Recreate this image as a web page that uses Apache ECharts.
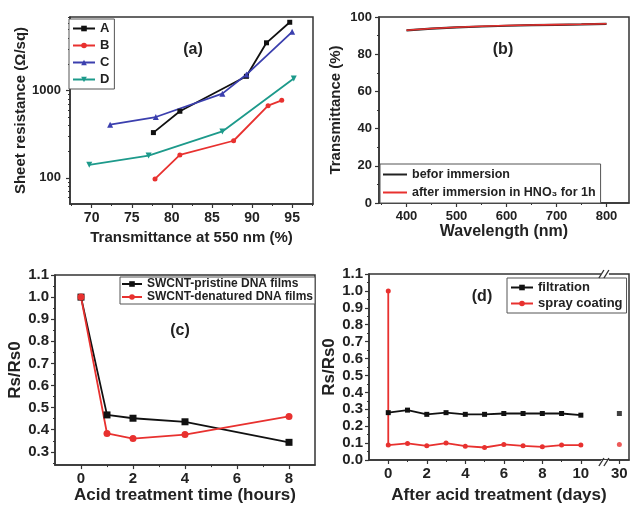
<!DOCTYPE html>
<html>
<head>
<meta charset="utf-8">
<script src="https://cdn.jsdelivr.net/npm/echarts@6/dist/echarts.min.js"></script>
<style>
html,body{margin:0;padding:0;background:#fff;}
#c{width:632px;height:505px;}
</style>
</head>
<body>
<div id="c"></div>
<script>
// ---------- DATA ----------
// (a) sheet resistance vs transmittance
const aNames = ['A', 'B', 'C', 'D'];
const aX_A = [77.7, 81.0, 89.3, 91.8, 94.7];
const aY_A = [330, 580, 1460, 3540, 6090];
const aX_B = [77.9, 81.0, 87.7, 92.0, 93.7];
const aY_B = [97, 183, 266, 672, 774];
const aX_C = [72.3, 78.0, 86.3, 89.3, 95.0];
const aY_C = [407, 498, 924, 1530, 4730];
const aX_D = [69.7, 77.1, 86.3, 95.2];
const aY_D = [141, 180, 340, 1375];
const aXTicks = [70, 75, 80, 85, 90, 95];
const aXMinor = [67.5, 72.5, 77.5, 82.5, 87.5, 92.5, 97.5];
const aYTicks = [100, 1000];
const aYMinor = [60, 70, 80, 90, 200, 300, 400, 500, 600, 700, 800, 900, 2000, 3000, 4000, 5000, 6000, 7000];

// (b) transmittance spectra
const bNames = ['befor immersion', 'after immersion in HNO₃ for 1h'];
const bWave = [400, 450, 500, 550, 600, 650, 700, 750, 800];
const bBefore = [92.8, 93.7, 94.4, 94.9, 95.3, 95.6, 95.8, 96.0, 96.3];
const bAfter = [92.9, 93.8, 94.5, 95.0, 95.4, 95.7, 95.9, 96.1, 96.4];
const bXTicks = [400, 500, 600, 700, 800];
const bXMinor = [350, 450, 550, 650, 750];
const bYMinor = [10, 30, 50, 70, 90];

// (c) Rs/Rs0 vs acid treatment time
const cNames = ['SWCNT-pristine DNA films', 'SWCNT-denatured DNA films'];
const cHours = [0, 1, 2, 4, 8];
const cPristine = [1.0, 0.467, 0.452, 0.436, 0.343];
const cDenatured = [1.0, 0.383, 0.360, 0.378, 0.460];
const cXTicks = [0, 2, 4, 6, 8];
const cXMinor = [1, 3, 5, 7];
const cYTicks = [0.3, 0.4, 0.5, 0.6, 0.7, 0.8, 0.9, 1.0, 1.1];
const cYMinor = [0.25, 0.35, 0.45, 0.55, 0.65, 0.75, 0.85, 0.95, 1.05];

// (d) stability after acid treatment
const dNames = ['filtration', 'spray coating'];
const dDays = [0, 1, 2, 3, 4, 5, 6, 7, 8, 9, 10];
const dFiltration = [0.28, 0.295, 0.27, 0.28, 0.27, 0.27, 0.275, 0.275, 0.275, 0.275, 0.265];
const dSprayDays = [0, 0, 1, 2, 3, 4, 5, 6, 7, 8, 9, 10];
const dSpray = [1.0, 0.088, 0.098, 0.084, 0.100, 0.082, 0.074, 0.092, 0.084, 0.078, 0.088, 0.088];
const dLateDays = [30];
const dLateFiltration = [0.275];
const dLateSpray = [0.092];
const dXTicks = [0, 2, 4, 6, 8, 10, 30];
const dXMinor = [1, 3, 5, 7, 9];
const dYMinor = [0.05, 0.15, 0.25, 0.35, 0.45, 0.55, 0.65, 0.75, 0.85, 0.95, 1.05];

// axis break for (d): days beyond 10 are squeezed so that day 30 sits at position 12
const breakFrom = 10, breakTo = 30, breakPos = 12, breakMark = 11.25;
const dMap = d => d > breakFrom ? breakPos + (d - breakTo) : d;

// ---------- STYLE ----------
const FONT = "'Liberation Sans', Arial, Helvetica, sans-serif";
const AX = '#333';
const BLACK = '#111111', RED = '#e8312f', BLUE = '#3b3fae', TEAL = '#1d9a8b';

const zip = (xs, ys, f) => xs.map((x, i) => [f ? f(x) : x, ys[i]]);

function mainAxis(gi, opt) {
  const o = {
    gridIndex: gi, type: opt.type || 'value', min: opt.min, max: opt.max,
    axisLine: { show: true, onZero: false, lineStyle: { color: AX, width: 1.5 } },
    axisTick: { show: true, inside: false, length: 4, lineStyle: { color: AX, width: 1.2 } },
    axisLabel: { color: '#222', fontFamily: FONT, fontWeight: 'bold', fontSize: opt.fs, margin: opt.margin },
    splitLine: { show: false },
    name: opt.name, nameLocation: 'middle', nameGap: opt.nameGap,
    nameTextStyle: { color: '#222', fontFamily: FONT, fontWeight: 'bold', fontSize: opt.nfs }
  };
  if (opt.position) o.position = opt.position;
  if (opt.ticks) { o.axisLabel.customValues = opt.ticks; o.axisTick.customValues = opt.ticks; }
  if (opt.interval) o.interval = opt.interval;
  if (opt.formatter) o.axisLabel.formatter = opt.formatter;
  return o;
}
function minorAxis(gi, opt) {
  return {
    gridIndex: gi, type: opt.type || 'value', min: opt.min, max: opt.max, position: opt.position,
    axisLine: { show: false, onZero: false },
    axisTick: { show: true, length: 2, customValues: opt.ticks, lineStyle: { color: AX, width: 1 } },
    axisLabel: { show: false }, splitLine: { show: false }
  };
}
const gridBase = { show: true, borderColor: AX, borderWidth: 1.5, backgroundColor: 'transparent' };
const legendBase = {
  orient: 'vertical', borderColor: '#555', borderWidth: 1, backgroundColor: '#fff',
  itemWidth: 24, itemHeight: 7,
  textStyle: { color: '#222', fontFamily: FONT, fontWeight: 'bold', fontSize: 13 }
};
function lineSeries(name, data, color, symbol, xi, yi, extra) {
  return Object.assign({
    type: 'line', name, data, xAxisIndex: xi, yAxisIndex: yi,
    symbol, symbolSize: 6, showSymbol: true,
    lineStyle: { color, width: 1.8 }, itemStyle: { color },
    emphasis: { disabled: true }, animation: false
  }, extra || {});
}
const fmt1 = v => Number(v).toFixed(1);

const option = {
  animation: false,
  backgroundColor: '#fff',
  grid: [
    Object.assign({ left: 70, top: 17, width: 243, height: 187 }, gridBase),
    Object.assign({ left: 379, top: 17, width: 250, height: 186 }, gridBase),
    Object.assign({ left: 55, top: 275, width: 260, height: 193 }, gridBase),
    Object.assign({ left: 369, top: 274, width: 260, height: 188 }, gridBase)
  ],
  xAxis: [
    mainAxis(0, { min: 67.3, max: 97.6, ticks: aXTicks, fs: 14, margin: 7, name: 'Transmittance at 550 nm (%)', nameGap: 26, nfs: 15, position: 'bottom' }),
    minorAxis(0, { min: 67.3, max: 97.6, ticks: aXMinor, position: 'bottom' }),
    mainAxis(1, { min: 345, max: 845, ticks: bXTicks, fs: 13, margin: 7, name: 'Wavelength (nm)', nameGap: 20, nfs: 16, position: 'bottom' }),
    minorAxis(1, { min: 345, max: 845, ticks: bXMinor, position: 'bottom' }),
    mainAxis(2, { min: -1, max: 9, ticks: cXTicks, fs: 15, margin: 6, name: 'Acid treatment time (hours)', nameGap: 21, nfs: 17, position: 'bottom' }),
    minorAxis(2, { min: -1, max: 9, ticks: cXMinor, position: 'bottom' }),
    mainAxis(3, { min: -1, max: 12.5, ticks: dXTicks.map(dMap), fs: 15, margin: 6, name: 'After acid treatment (days)', nameGap: 27, nfs: 17, position: 'bottom',
      formatter: v => String(Math.round(v) === breakPos ? breakTo : Math.round(v)) }),
    minorAxis(3, { min: -1, max: 12.5, ticks: dXMinor, position: 'bottom' })
  ],
  yAxis: [
    mainAxis(0, { type: 'log', min: 50, max: 7000, ticks: aYTicks, fs: 13, margin: 9, name: 'Sheet resistance (Ω/sq)', nameGap: 42, nfs: 15, position: 'left',
      formatter: v => String(Math.round(v)) }),
    minorAxis(0, { type: 'log', min: 50, max: 7000, ticks: aYMinor, position: 'left' }),
    mainAxis(1, { min: 0, max: 100, interval: 20, fs: 13, margin: 7, name: 'Transmittance (%)', nameGap: 36, nfs: 15, position: 'left' }),
    minorAxis(1, { min: 0, max: 100, ticks: bYMinor, position: 'left' }),
    mainAxis(2, { min: 0.24, max: 1.1, ticks: cYTicks, fs: 15, margin: 6, name: 'Rs/Rs0', nameGap: 31, nfs: 17, position: 'left', formatter: fmt1 }),
    minorAxis(2, { min: 0.24, max: 1.1, ticks: cYMinor, position: 'left' }),
    mainAxis(3, { min: 0, max: 1.1, interval: 0.1, fs: 15, margin: 6, name: 'Rs/Rs0', nameGap: 28, nfs: 17, position: 'left', formatter: fmt1 }),
    minorAxis(3, { min: 0, max: 1.1, ticks: dYMinor, position: 'left' })
  ],
  legend: [
    Object.assign({}, legendBase, { data: aNames, left: 69, top: 19, itemGap: 4, padding: [3, 5, 3, 3], itemWidth: 22 }),
    Object.assign({}, legendBase, {
      data: bNames.map(n => ({ name: n, icon: 'rect' })), left: 380, top: 164, itemGap: 5, padding: [4, 5, 4, 3],
      itemWidth: 24, itemHeight: 2, textStyle: Object.assign({}, legendBase.textStyle, { fontSize: 12.5 })
    }),
    Object.assign({}, legendBase, {
      data: cNames, left: 120, top: 277, itemGap: 1, padding: [1, 2, 1, 1], itemWidth: 20,
      textStyle: Object.assign({}, legendBase.textStyle, { fontSize: 12 })
    }),
    Object.assign({}, legendBase, { data: dNames, left: 507, top: 278, itemGap: 3, padding: [3, 4, 3, 3], itemWidth: 22 })
  ],
  series: [
    lineSeries('A', zip(aX_A, aY_A), BLACK, 'rect', 0, 0, { symbolSize: 5 }),
    lineSeries('B', zip(aX_B, aY_B), RED, 'circle', 0, 0, { symbolSize: 5 }),
    lineSeries('C', zip(aX_C, aY_C), BLUE, 'triangle', 0, 0, { symbolSize: 6 }),
    lineSeries('D', zip(aX_D, aY_D), TEAL, 'path://M0,0 L10,0 L5,10 Z', 0, 0, { symbolSize: 6 }),

    lineSeries(bNames[0], zip(bWave, bBefore), '#222', 'none', 2, 2, { lineStyle: { color: '#222', width: 2.2 } }),
    lineSeries(bNames[1], zip(bWave, bAfter), RED, 'none', 2, 2, { lineStyle: { color: RED, width: 1.6 } }),

    lineSeries(cNames[0], zip(cHours, cPristine), BLACK, 'rect', 4, 4, { symbolSize: 7 }),
    lineSeries(cNames[1], zip(cHours, cDenatured), RED, 'circle', 4, 4, { symbolSize: 7 }),

    lineSeries(dNames[0], zip(dDays, dFiltration), BLACK, 'rect', 6, 6, { symbolSize: 5 }),
    lineSeries(dNames[1], zip(dSprayDays, dSpray), RED, 'circle', 6, 6, { symbolSize: 5 }),
    { type: 'scatter', name: dNames[0], data: zip(dLateDays, dLateFiltration, dMap), xAxisIndex: 6, yAxisIndex: 6,
      symbol: 'rect', symbolSize: 5, itemStyle: { color: BLACK }, animation: false },
    { type: 'scatter', name: dNames[1], data: zip(dLateDays, dLateSpray, dMap), xAxisIndex: 6, yAxisIndex: 6,
      symbol: 'circle', symbolSize: 5, itemStyle: { color: RED }, animation: false }
  ]
};

const chart = echarts.init(document.getElementById('c'), null, { renderer: 'canvas' });
chart.setOption(option);

// panel letters and axis-break marks
const bx = chart.convertToPixel({ xAxisIndex: 6 }, breakMark);
const yTop = 274, yBot = 462;
function breakMarks(y) {
  return [
    { type: 'rect', shape: { x: bx - 4, y: y - 2, width: 8, height: 4 }, style: { fill: '#fff' }, z: 100 },
    { type: 'line', shape: { x1: bx - 6, y1: y + 4, x2: bx - 1, y2: y - 4 }, style: { stroke: AX, lineWidth: 1.4 }, z: 101 },
    { type: 'line', shape: { x1: bx - 1, y1: y + 4, x2: bx + 4, y2: y - 4 }, style: { stroke: AX, lineWidth: 1.4 }, z: 101 }
  ];
}
function label(t, x, y) {
  return { type: 'text', x, y, style: { text: t, fill: '#222', font: 'bold 16px ' + FONT, textAlign: 'center', textVerticalAlign: 'middle' }, z: 50 };
}
chart.setOption({
  graphic: [
    label('(a)', 193, 50), label('(b)', 503, 50), label('(c)', 180, 331), label('(d)', 482, 297)
  ].concat(breakMarks(yTop), breakMarks(yBot))
});
</script>
</body>
</html>
